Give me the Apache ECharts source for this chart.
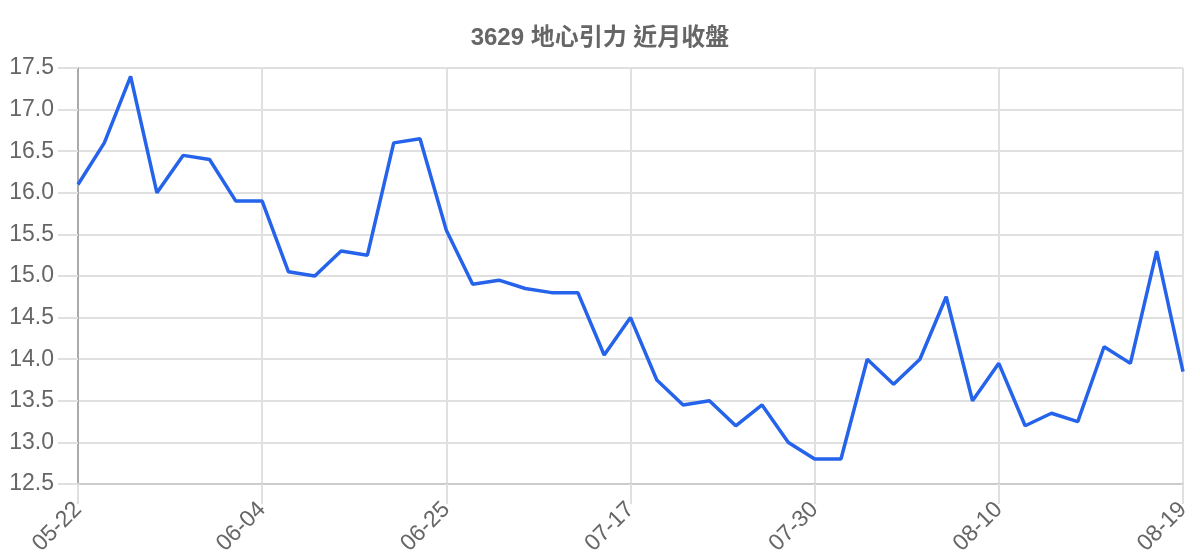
<!DOCTYPE html>
<html>
<head>
<meta charset="utf-8">
<title>3629 地心引力 近月收盤</title>
<script src="https://cdn.jsdelivr.net/npm/echarts@6/dist/echarts.min.js"></script>
<style>
  html, body { margin: 0; padding: 0; background: #fff; }
  #chart { width: 1200px; height: 560px; }
</style>
</head>
<body>
<div id="chart"></div>
<script>
const titleText = '3629 地心引力 近月收盤';

// 交易日 (只有每 7 筆的標籤看得到)
const dates = [
  '05-22', '05-23', '05-26', '05-27', '05-28', '05-29', '06-02',
  '06-04', '06-06', '06-09', '06-11', '06-13', '06-17', '06-20',
  '06-25', '06-27', '07-01', '07-03', '07-07', '07-09', '07-14',
  '07-17', '07-18', '07-21', '07-22', '07-24', '07-25', '07-28',
  '07-30', '07-31', '08-01', '08-04', '08-05', '08-06', '08-07',
  '08-10', '08-11', '08-12', '08-13', '08-14', '08-15', '08-18',
  '08-19'
];

// 收盤價
const closes = [
  16.1, 16.6, 17.4, 16.0, 16.45, 16.4, 15.9,
  15.9, 15.05, 15.0, 15.3, 15.25, 16.6, 16.65,
  15.55, 14.9, 14.95, 14.85, 14.8, 14.8, 14.05,
  14.5, 13.75, 13.45, 13.5, 13.2, 13.45, 13.0,
  12.8, 12.8, 14.0, 13.7, 14.0, 14.75, 13.5,
  13.95, 13.2, 13.35, 13.25, 14.15, 13.95, 15.3,
  13.85
];

const yMin = 12.5;
const yMax = 17.5;
const yStep = 0.5;

const fontFamily = '"Liberation Sans", "Noto Sans CJK TC", sans-serif';
const gridColor = '#e0e0e0';

const chart = echarts.init(document.getElementById('chart'));

const option = {
  backgroundColor: '#fff',
  animation: false,
  title: {
    text: titleText,
    left: 'center',
    top: 21,
    textStyle: {
      color: '#666',
      fontSize: 24,
      fontWeight: 'bold',
      fontFamily: fontFamily
    }
  },
  grid: {
    left: 78,
    right: 17,
    top: 68,
    bottom: 76,
    containLabel: false
  },
  xAxis: {
    type: 'category',
    data: dates,
    boundaryGap: false,
    axisLine: { lineStyle: { color: '#ccc', width: 2 } },
    axisTick: {
      show: true,
      interval: 6,
      length: 20,
      lineStyle: { color: gridColor, width: 2 }
    },
    axisLabel: {
      interval: 6,
      rotate: 45,
      margin: 22,
      color: '#666',
      fontSize: 23,
      fontFamily: fontFamily
    },
    splitLine: {
      show: true,
      interval: 6,
      lineStyle: { color: gridColor, width: 2 }
    }
  },
  yAxis: {
    type: 'value',
    min: yMin,
    max: yMax,
    interval: yStep,
    axisLine: { show: true, lineStyle: { color: '#aaa', width: 2 } },
    axisTick: {
      show: true,
      length: 20,
      lineStyle: { color: gridColor, width: 2 }
    },
    axisLabel: {
      margin: 24,
      color: '#666',
      fontSize: 23,
      fontFamily: fontFamily,
      formatter: v => v.toFixed(1)
    },
    splitLine: { lineStyle: { color: gridColor, width: 2 } }
  },
  series: [
    {
      name: '收盤',
      type: 'line',
      data: closes,
      showSymbol: false,
      symbol: 'none',
      lineStyle: { color: '#2563eb', width: 3.5 },
      itemStyle: { color: '#2563eb' }
    }
  ]
};

chart.setOption(option);
window.addEventListener('resize', chart.resize);
</script>
</body>
</html>
